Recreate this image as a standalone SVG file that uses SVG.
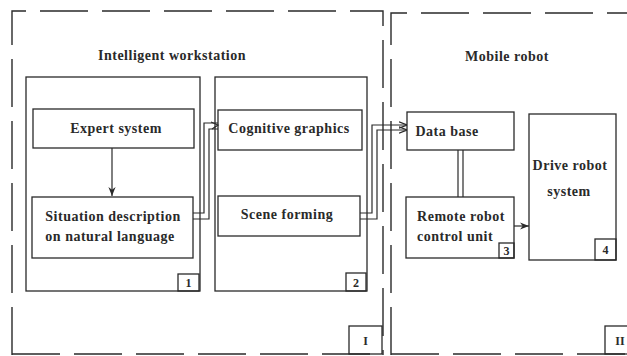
<svg xmlns="http://www.w3.org/2000/svg" width="627" height="356" viewBox="0 0 627 356">
<style>
.b{fill:none;stroke:#2a2a2a;stroke-width:1.3}
.d{fill:none;stroke:#2a2a2a;stroke-width:1.4;stroke-dasharray:48 14}
.c{fill:none;stroke:#2a2a2a;stroke-width:1.2}
text{font-family:"Liberation Serif","DejaVu Serif",serif;font-size:14px;fill:#2a2a2a;text-anchor:middle;font-weight:bold;letter-spacing:0.5px}
.s{font-size:12px;letter-spacing:0}
</style>
<defs>
<marker id="ah" viewBox="0 0 10 10" refX="10" refY="5" markerWidth="9" markerHeight="9" orient="auto" markerUnits="userSpaceOnUse">
<path d="M0,1 L10,5 L0,9 L3,5 Z" fill="#2a2a2a"/>
</marker>
<marker id="ao" viewBox="0 0 10 10" refX="10" refY="5" markerWidth="8" markerHeight="8" orient="auto" markerUnits="userSpaceOnUse">
<path d="M0,1 L10,5 L0,9" fill="none" stroke="#2a2a2a" stroke-width="1.5"/>
</marker>
</defs>
<rect width="627" height="356" fill="#fff"/>
<g id="groupI">
<path class="d" d="M12,355 V11 H383 V355"/>
<path class="d" d="M12,354 H383"/>
<text x="172" y="60">Intelligent workstation</text>
<rect class="b" x="349" y="326" width="33" height="28"/>
<text class="s" x="365.5" y="345">I</text>
</g>
<g id="groupII">
<path class="d" d="M391,355 V13 H640"/>
<path class="d" d="M391,354 H640"/>
<text x="507" y="61">Mobile robot</text>
<rect class="b" x="605" y="326" width="30" height="28"/>
<text class="s" x="620" y="345">II</text>
</g>
<g id="block1">
<rect class="b" x="26" y="77" width="174" height="214"/>
<rect class="b" x="178" y="274" width="21" height="17"/>
<text class="s" x="188.5" y="287">1</text>
</g>
<g id="expert">
<rect class="b" x="33" y="109" width="161" height="39"/>
<text x="116" y="133">Expert system</text>
</g>
<g id="situation">
<rect class="b" x="32" y="197" width="161" height="61"/>
<text x="113" y="221">Situation description</text>
<text x="110" y="241">on natural language</text>
</g>
<g id="block2">
<rect class="b" x="215" y="77" width="152" height="214"/>
<rect class="b" x="346" y="273" width="20" height="18"/>
<text class="s" x="356" y="287">2</text>
</g>
<g id="cognitive">
<rect class="b" x="218" y="110" width="144" height="40"/>
<text x="289" y="133">Cognitive graphics</text>
</g>
<g id="scene">
<rect class="b" x="218" y="196" width="142" height="40"/>
<text x="287" y="219">Scene forming</text>
</g>
<g id="database">
<rect class="b" x="407" y="112" width="107" height="38"/>
<text x="447" y="136">Data base</text>
</g>
<g id="remote">
<rect class="b" x="406" y="197" width="108" height="61"/>
<text x="461" y="221">Remote robot</text>
<text x="455" y="241">control unit</text>
<rect class="b" x="499" y="243" width="15" height="15"/>
<text class="s" x="506.5" y="255">3</text>
</g>
<g id="drive">
<rect class="b" x="529" y="114" width="87" height="146"/>
<text x="570" y="170">Drive robot</text>
<text x="569" y="196">system</text>
<rect class="b" x="595" y="239" width="21" height="21"/>
<text class="s" x="605.5" y="254">4</text>
</g>
<g id="connectors">
<path class="c" d="M112,148 V196" marker-end="url(#ah)"/>
<path class="c" d="M193,213 H204 V123 H218"/>
<path class="c" d="M193,219 H209 V129 H218"/>
<path class="c" d="M211,122 L218,125 L212,129" />
<path class="c" d="M360,213 H372 V125 H407" marker-end="url(#ao)"/>
<path class="c" d="M360,219 H377 V130 H407" marker-end="url(#ao)"/>
<path class="c" d="M458,150 V197 M463,150 V197"/>
<path class="c" d="M514,226 H529" marker-end="url(#ah)"/>
</g>
</svg>
